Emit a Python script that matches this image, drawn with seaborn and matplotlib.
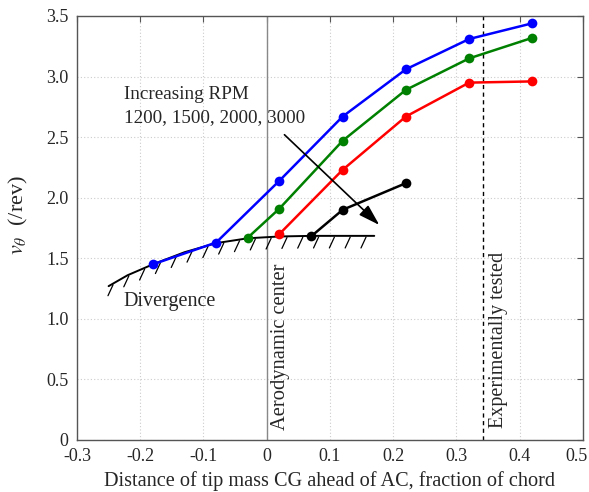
import numpy as np
import pandas as pd
import matplotlib
matplotlib.use("Agg")
import matplotlib.pyplot as plt
import matplotlib.transforms as mtransforms
import seaborn as sns

# ---- data ----
rpm_labels = ["1200", "1500", "2000", "3000"]
x_1200 = [-0.18, -0.08, 0.02, 0.12, 0.22, 0.32, 0.42]
y_1200 = [1.45, 1.63, 2.14, 2.67, 3.06, 3.31, 3.44]
x_1500 = [-0.03, 0.02, 0.12, 0.22, 0.32, 0.42]
y_1500 = [1.67, 1.91, 2.47, 2.89, 3.15, 3.32]
x_2000 = [0.02, 0.12, 0.22, 0.32, 0.42]
y_2000 = [1.70, 2.23, 2.67, 2.95, 2.96]
x_3000 = [0.07, 0.12, 0.22]
y_3000 = [1.68, 1.90, 2.12]
colors = ["#0000ff", "#008000", "#ff0000", "#000000"]

# divergence boundary
div_x = [-0.25, -0.22, -0.18, -0.13, -0.08, -0.03, 0.02, 0.07, 0.17]
div_y = [1.27, 1.36, 1.45, 1.55, 1.625, 1.665, 1.68, 1.685, 1.685]

x_ticks = [-0.3, -0.2, -0.1, 0, 0.1, 0.2, 0.3, 0.4, 0.5]
x_ticklabels = ["-0.3", "-0.2", "-0.1", "0", "0.1", "0.2", "0.3", "0.4", "0.5"]
y_ticks = [0, 0.5, 1.0, 1.5, 2.0, 2.5, 3.0, 3.5]
y_ticklabels = ["0", "0.5", "1.0", "1.5", "2.0", "2.5", "3.0", "3.5"]

aero_center_x = 0.0
exp_tested_x = 0.342

# ---- style ----
sns.set_style("white")
plt.rcParams["font.family"] = ["Liberation Serif", "DejaVu Serif"]
plt.rcParams["mathtext.fontset"] = "stix"

fig = plt.figure(figsize=(5.89, 4.92), dpi=100)
ax = fig.add_axes([0.1307, 0.1057, 0.8591, 0.8618])

frames = []
for lab, xs, ys in zip(rpm_labels, [x_1200, x_1500, x_2000, x_3000],
                       [y_1200, y_1500, y_2000, y_3000]):
    frames.append(pd.DataFrame({"x": xs, "y": ys, "rpm": lab}))
df = pd.concat(frames, ignore_index=True)

sns.lineplot(data=df, x="x", y="y", hue="rpm", palette=colors,
             marker="o", markersize=7, markeredgewidth=0, linewidth=1.8,
             legend=False, ax=ax, zorder=4)

# divergence boundary and hatches
ax.plot(div_x, div_y, color="black", linewidth=1.4, zorder=3)
hx = np.arange(-0.243, 0.17, 0.025)
hy = np.interp(hx, div_x, div_y)
for xx, yy in zip(hx, hy):
    ax.plot([xx, xx - 0.008], [yy - 0.01, yy - 0.10], color="black",
            linewidth=0.9, zorder=3)

# reference lines
ax.axvline(aero_center_x, color="#888888", linewidth=1.0, zorder=2)
ax.axvline(exp_tested_x, color="black", linewidth=1.0, linestyle=(0, (3, 2.5)), zorder=2)

# annotations
ax.text(-0.226, 2.85, "Increasing RPM", fontsize=13.8, va="center", ha="left")
ax.text(-0.226, 2.66, "1200, 1500, 2000, 3000", fontsize=13.8, va="center", ha="left")
ax.annotate("", xy=(0.178, 1.775), xytext=(0.028, 2.52),
            arrowprops=dict(arrowstyle="-|>,head_length=1.3,head_width=0.4",
                            color="black", linewidth=1.2, shrinkA=0, shrinkB=0),
            zorder=5)
ax.text(-0.226, 1.14, "Divergence", fontsize=14.5, va="center", ha="left")
ax.text(0.021, 0.08, "Aerodynamic center", fontsize=14.8, rotation=90,
        va="bottom", ha="center")
ax.text(0.366, 0.10, "Experimentally tested", fontsize=14.5, rotation=90,
        va="bottom", ha="center")

# axes
ax.set_xlim(-0.3, 0.5)
ax.set_ylim(0, 3.5)
ax.set_xticks(x_ticks)
ax.set_xticklabels(x_ticklabels)
ax.set_yticks(y_ticks)
ax.set_yticklabels(y_ticklabels)
ax.grid(True, color="#cccccc", linestyle=(0, (1, 2)), linewidth=0.8)
ax.tick_params(direction="in", length=4, width=0.8, color="#555555",
               top=True, right=True, labelsize=13, pad=6)
for s in ax.spines.values():
    s.set_color("#555555")
    s.set_linewidth(1.0)
ax.set_xlabel("Distance of tip mass CG ahead of AC, fraction of chord",
              fontsize=14.6, labelpad=4)
ax.set_ylabel(r"$v_\theta$  (/rev)", fontsize=16)
ax.yaxis.set_label_coords(-0.093, 0.53)

# keep the last x tick label inside the figure (as in the reference)
last_lbl = ax.get_xticklabels()[-1]
last_lbl.set_transform(last_lbl.get_transform() +
                       mtransforms.ScaledTranslation(-6 / 100, 0, fig.dpi_scale_trans))

fig.savefig("out.png", dpi=100)
